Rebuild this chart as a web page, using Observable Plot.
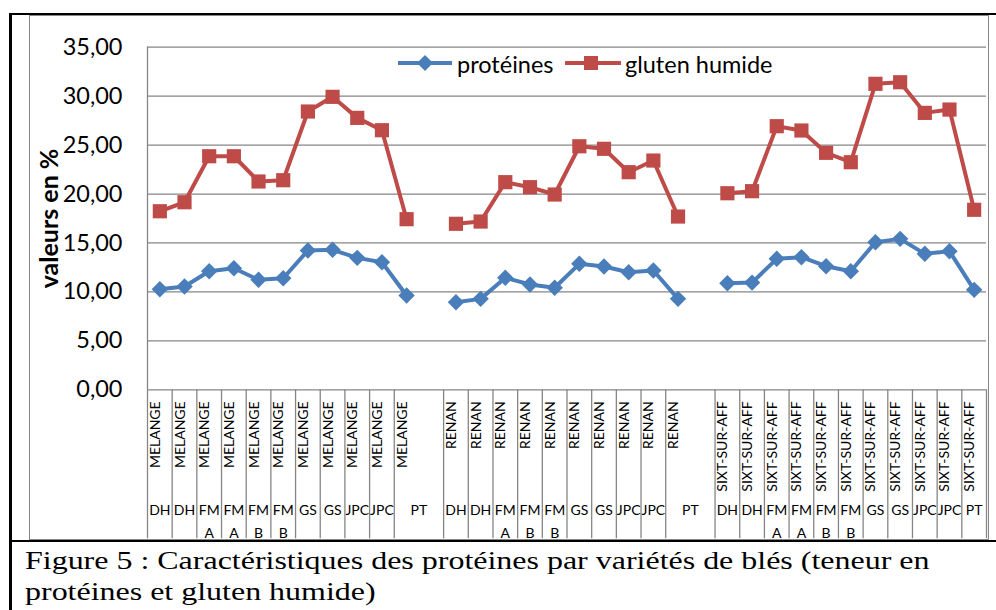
<!DOCTYPE html>
<html lang="fr">
<head>
<meta charset="utf-8">
<script src="https://cdn.jsdelivr.net/npm/d3@7"></script>
<script src="https://cdn.jsdelivr.net/npm/@observablehq/plot@0.6"></script>
<style>
  html, body { margin: 0; padding: 0; background: #ffffff; overflow: hidden; }
  #page { position: relative; width: 996px; height: 610px; background: #ffffff; }
  #chart { position: absolute; left: 0; top: 0; }
  .box { position: absolute; box-sizing: border-box; }
  #chartArea { left: 29px; top: 15px; width: 960px; height: 525px; border: 1.5px solid #868686; }
  #topLine { left: 9px; top: 13px; width: 987px; height: 2px; background: #000; }
  #leftLine { left: 9px; top: 13px; width: 2.5px; height: 597px; background: #000; }
  #sepLine { left: 9px; top: 539.5px; width: 987px; height: 2.5px; background: #000; }
  #legend { position: absolute; left: 380px; top: 40px; }
  #caption { position: absolute; left: 0; top: 540px; }
</style>
</head>
<body>
<div id="page">
  <div class="box" id="chartArea"></div>
  <div id="chart"></div>
  <svg id="legend" width="420" height="50"></svg>
  <svg id="caption" width="996" height="70"></svg>
  <div class="box" id="topLine"></div>
  <div class="box" id="leftLine"></div>
  <div class="box" id="sepLine"></div>
</div>
<script>
// ---------- Data ----------
const varietes = ["MELANGE", "RENAN", "SIXT-SUR-AFF"];

const modalitesMelange = ["DH", "DH", "FM\nA", "FM\nA", "FM\nB", "FM\nB", "GS", "GS", "JPC", "JPC", "PT"];
const modalitesRenan   = ["DH", "DH", "FM\nA", "FM\nB", "FM\nB", "GS", "GS", "JPC", "JPC", "PT"];
const modalitesSixt    = ["DH", "DH", "FM\nA", "FM\nA", "FM\nB", "FM\nB", "GS", "GS", "JPC", "JPC", "PT"];

const proteinesMelange = [10.28, 10.55, 12.11, 12.42, 11.24, 11.40, 14.23, 14.30, 13.48, 13.03, 9.63];
const glutenMelange    = [18.24, 19.16, 23.86, 23.86, 21.28, 21.41, 28.43, 29.93, 27.78, 26.52, 17.43];

const proteinesRenan   = [8.95, 9.29, 11.44, 10.76, 10.42, 12.87, 12.60, 12.01, 12.19, 9.29];
const glutenRenan      = [16.96, 17.19, 21.21, 20.70, 19.95, 24.88, 24.62, 22.23, 23.42, 17.70];

const proteinesSixt    = [10.89, 10.95, 13.38, 13.55, 12.63, 12.11, 15.08, 15.42, 13.89, 14.16, 10.21];
const glutenSixt       = [20.08, 20.29, 26.93, 26.49, 24.21, 23.25, 31.26, 31.42, 28.29, 28.63, 18.39];

const yTicks = [0, 5, 10, 15, 20, 25, 30, 35];
const seriesNames = ["protéines", "gluten humide"];
const yLabel = "valeurs en %";
const captionLines = [
  "Figure 5 : Caractéristiques des protéines par variétés de blés (teneur en",
  "protéines et gluten humide)"
];

// ---------- Styles ----------
const BLUE = "#4A7EBB";
const RED = "#BE4B48";
const GRID = "#868686";
const FONT = "Lato, 'Open Sans', sans-serif";
const SERIF = "'Liberation Serif', 'Times New Roman', Tinos, 'DejaVu Serif Condensed', 'DejaVu Serif', serif";

// ---------- Build tables ----------
const groups = [
  {variete: varietes[0], modalites: modalitesMelange, proteines: proteinesMelange, gluten: glutenMelange},
  {variete: varietes[1], modalites: modalitesRenan,   proteines: proteinesRenan,   gluten: glutenRenan},
  {variete: varietes[2], modalites: modalitesSixt,    proteines: proteinesSixt,    gluten: glutenSixt}
];

const rows = [];
const cells = [];
const boundaries = [];
let pos = 0;
groups.forEach((g, gi) => {
  const lastGroup = gi === groups.length - 1;
  g.modalites.forEach((m, i) => {
    const lastItem = i === g.modalites.length - 1;
    const span = (lastItem && !lastGroup) ? 2 : 1; // empty category after each group merges with PT
    rows.push({variete: g.variete, modalite: m, pos: pos + 0.5, proteines: g.proteines[i], gluten: g.gluten[i]});
    cells.push({label: m, center: pos + span / 2});
    boundaries.push(pos);
    pos += span;
  });
});
boundaries.push(pos);
const nPositions = pos;

const fmt = d => d.toFixed(2).replace(".", ",");

// ---------- Chart ----------
const chart = Plot.plot({
  width: 996,
  height: 540,
  marginLeft: 147,
  marginRight: 10,
  marginTop: 46.7,
  marginBottom: 150.7,
  x: {type: "linear", domain: [0, nPositions]},
  y: {type: "linear", domain: [0, 35]},
  style: {fontFamily: FONT, color: "#000", background: "transparent", overflow: "visible"},
  marks: [
    Plot.gridY(yTicks, {stroke: GRID, strokeOpacity: 1, strokeWidth: 1.3}),
    Plot.ruleX([0], {stroke: GRID, strokeWidth: 1.3}),
    Plot.axisY(yTicks, {tickSize: 0, tickPadding: 25, tickFormat: fmt, fontSize: 23.5, fill: "#000", label: null}),
    Plot.axisX(boundaries, {tickSize: 149, tickFormat: () => "", stroke: GRID, strokeWidth: 1.3, label: null}),
    Plot.text([yLabel], {frameAnchor: "left", textAnchor: "middle", rotate: -90, dx: -98, fontSize: 25, fontWeight: "bold", fill: "#000"}),
    Plot.text(rows, {x: "pos", text: "variete", frameAnchor: "bottom", rotate: -90, textAnchor: "end", dy: 11.5, fontSize: 14, fill: "#000"}),
    Plot.text(cells, {x: "center", text: "label", frameAnchor: "bottom", lineAnchor: "top", dy: 109.5, lineHeight: 1.6, fontSize: 14, fill: "#000"}),
    Plot.line(rows, {x: "pos", y: "proteines", z: "variete", stroke: BLUE, strokeWidth: 4, strokeLinejoin: "round"}),
    Plot.dot(rows, {x: "pos", y: "proteines", symbol: "diamond2", r: 7.4, fill: BLUE, stroke: "none"}),
    Plot.line(rows, {x: "pos", y: "gluten", z: "variete", stroke: RED, strokeWidth: 4, strokeLinejoin: "round"}),
    Plot.dot(rows, {x: "pos", y: "gluten", symbol: "square", r: 8, fill: RED, stroke: "none"})
  ]
});
document.getElementById("chart").appendChild(chart);

// ---------- Legend ----------
const legend = d3.select("#legend");
legend.append("line").attr("x1", 18).attr("x2", 72).attr("y1", 23).attr("y2", 23)
  .attr("stroke", BLUE).attr("stroke-width", 4);
legend.append("path").attr("d", "M45,15L53,23L45,31L37,23Z").attr("fill", BLUE);
legend.append("text").attr("x", 77).attr("y", 33).attr("font-family", FONT).attr("font-size", 23.5)
  .attr("fill", "#000").text(seriesNames[0]);
legend.append("line").attr("x1", 185).attr("x2", 241).attr("y1", 23).attr("y2", 23)
  .attr("stroke", RED).attr("stroke-width", 4);
legend.append("rect").attr("x", 204).attr("y", 16).attr("width", 14).attr("height", 14).attr("fill", RED);
legend.append("text").attr("x", 245).attr("y", 33).attr("font-family", FONT).attr("font-size", 23.5)
  .attr("fill", "#000").text(seriesNames[1]);

// ---------- Caption ----------
const cap = d3.select("#caption");
const capG = cap.append("g");
const t1 = capG.append("text").attr("x", 0).attr("y", 29).attr("font-family", SERIF)
  .attr("font-size", 25).attr("fill", "#000").text(captionLines[0]);
capG.append("text").attr("x", 0).attr("y", 60).attr("font-family", SERIF)
  .attr("font-size", 25).attr("fill", "#000").text(captionLines[1]);
const natural = t1.node().getComputedTextLength();
const k = natural > 0 ? 905 / natural : 1;
capG.attr("transform", `translate(25,0) scale(${k},1)`);
</script>
</body>
</html>
